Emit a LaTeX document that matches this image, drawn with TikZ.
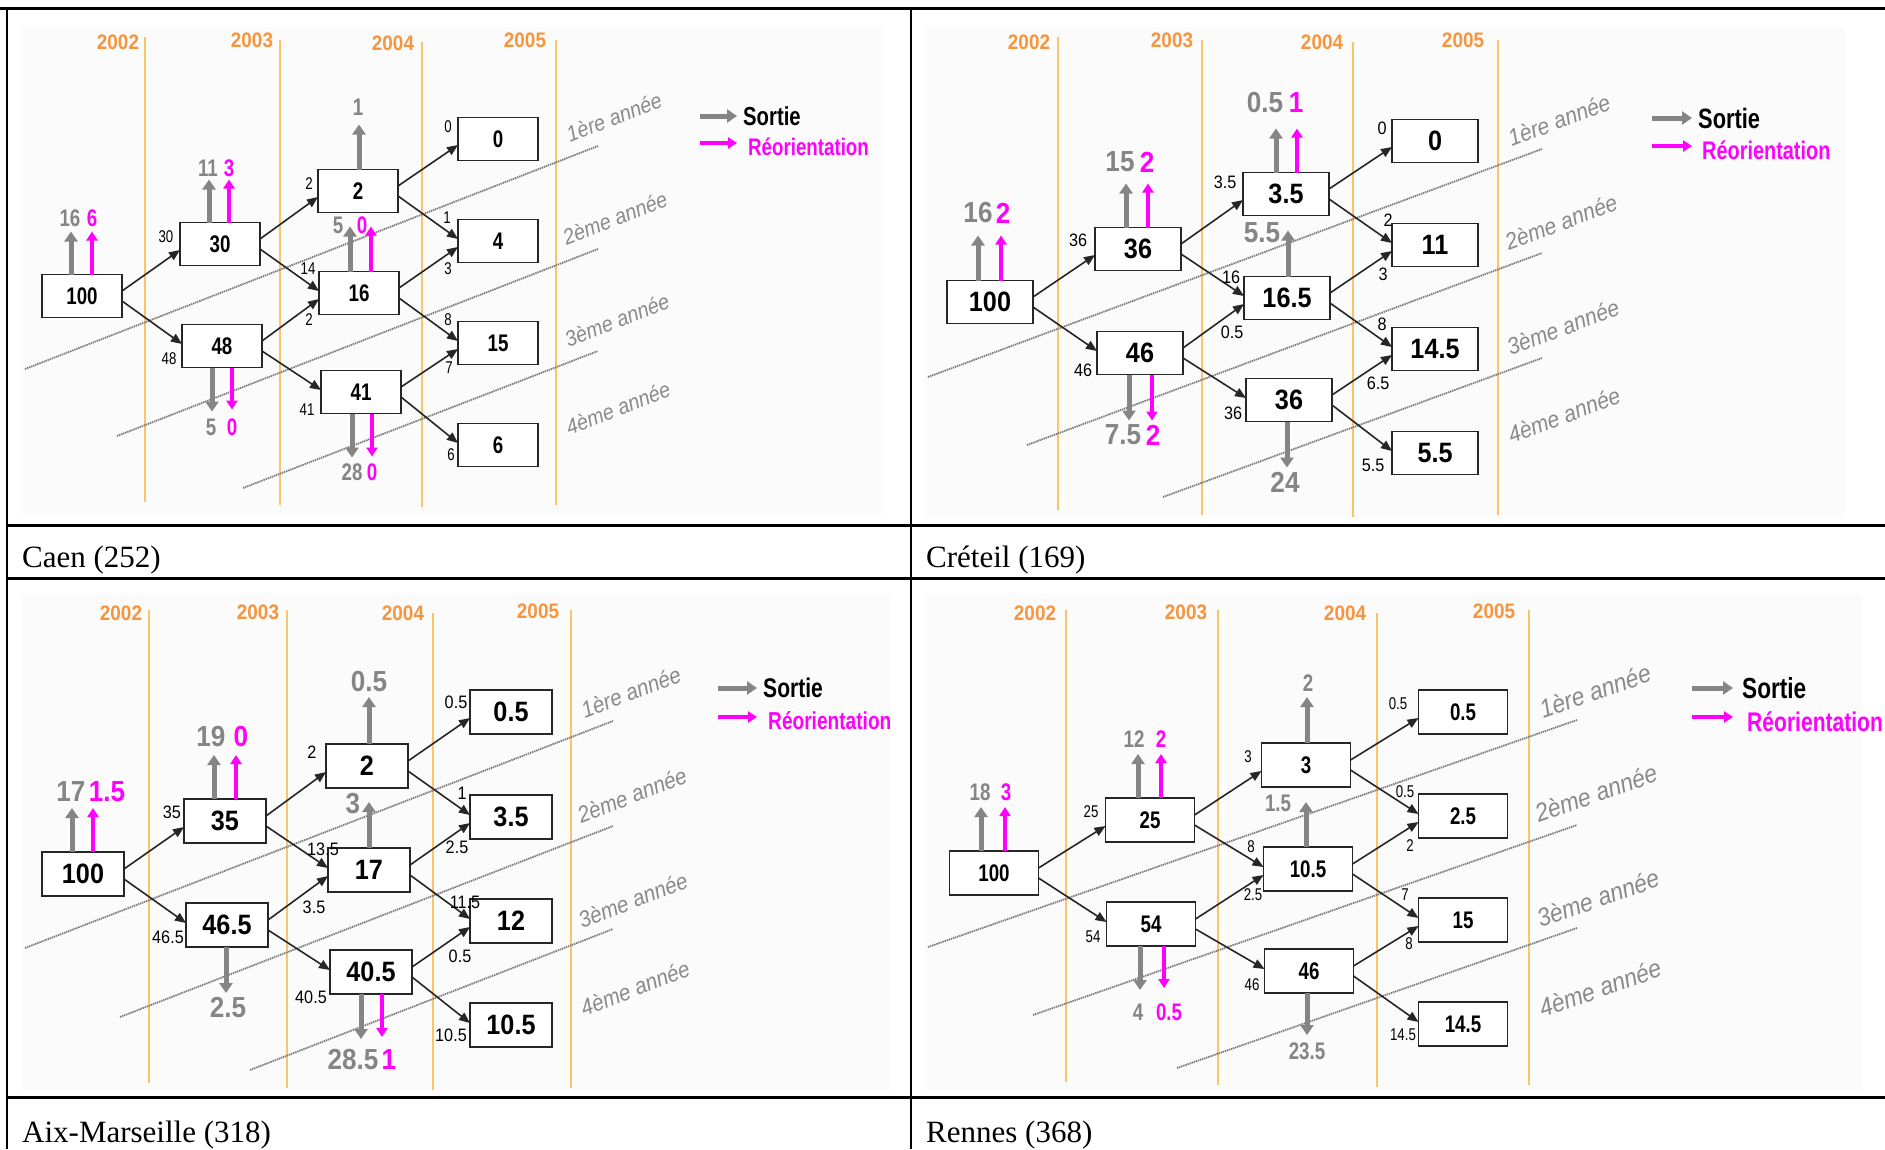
\documentclass[tikz,border=0pt]{standalone}
\usepackage{fontspec}
\setmainfont{Liberation Serif}
\newfontfamily\nsA[FakeStretch=0.78]{Liberation Sans}
\newfontfamily\nsB[FakeStretch=0.9]{Liberation Sans}
\usetikzlibrary{arrows.meta}
\newcommand\fsz[1]{\fontsize{#1pt}{#1pt}\selectfont}
\definecolor{egray}{HTML}{858585}
\definecolor{mag}{HTML}{FF00FF}
\definecolor{yorange}{HTML}{F7943C}
\definecolor{ylinec}{HTML}{F9C46B}
\definecolor{cgray}{HTML}{8A8A8A}
\definecolor{dgray}{HTML}{7A7A7A}
\tikzset{
  box/.style={draw=black!85, line width=1.8pt, fill=white, inner sep=0pt, outer sep=0pt, minimum height=43pt},
  boxA/.style={box, minimum width=80pt, font=\nsA\bfseries\fsz{24}},
  boxB/.style={box, minimum width=86pt, font=\nsB\bfseries\fsz{28}},
  boxC/.style={box, minimum width=82pt, minimum height=44pt, font=\nsB\bfseries\fsz{28}},
  boxD/.style={box, minimum width=89pt, minimum height=44pt, font=\nsA\bfseries\fsz{24}},
  flow/.style={-{Triangle[length=11pt,width=9pt]}, line width=1.6pt, draw=black!85},
  sortie/.style={-{Triangle[length=10pt,width=13pt]}, line width=5pt, draw=egray},
  reo/.style={-{Triangle[length=9pt,width=11pt]}, line width=4pt, draw=mag},
  yline/.style={draw=ylinec, line width=1.3pt},
  ytxt/.style={text=yorange, font=\nsB\bfseries\fsz{21}, inner sep=0pt},
  coh/.style={draw=dgray, line width=1.8pt, dash pattern=on 1.4pt off 0.8pt},
  lblA/.style={font=\nsA\fsz{17}, inner sep=0pt},
  lblB/.style={font=\nsB\fsz{18}, inner sep=0pt},
  exA/.style={font=\nsA\bfseries\fsz{24}, inner sep=0pt},
  exB/.style={font=\nsB\bfseries\fsz{29}, inner sep=0pt},
  cohlbl/.style={text=cgray, font=\nsB\itshape, inner sep=0pt},
  captxt/.style={anchor=base west, font=\fsz{31}, inner sep=0pt},
  tline/.style={line width=3pt, draw=black},
  vline/.style={line width=2pt, draw=black},
  bgpanel/.style={fill=black!1.5, draw=none}
}
\begin{document}
\begin{tikzpicture}[x=1pt,y=-1pt]
\useasboundingbox (0,0) rectangle (1885,1149);
\fill[white] (0,0) rectangle (1885,1149);
% ---------- panel backgrounds
\fill[bgpanel] (20,27) rectangle (884,515);
\fill[bgpanel] (925,27) rectangle (1845,518);
\fill[bgpanel] (22,594) rectangle (890,1090);
\fill[bgpanel] (925,594) rectangle (1862,1090);
% ---------- table
\draw[tline] (0,8) -- (1885,8);
\draw[tline] (7,525) -- (1885,525);
\draw[tline] (7,578) -- (1885,578);
\draw[tline] (7,1097) -- (1885,1097);
\draw[vline] (7,8) -- (7,1149);
\draw[line width=1.5pt] (911,8) -- (911,1149);
\node[captxt] (capA) at (22,567) {Caen (252)};
\node[captxt] (capB) at (926,567) {Créteil (169)};
\node[captxt] (capC) at (22,1142) {Aix-Marseille (318)};
\node[captxt] (capD) at (926,1142) {Rennes (368)};

% =================== PANEL A : Caen ===================
\foreach \x/\yt/\yb/\lx/\ly/\t [count=\i] in {145/37/502/118/42/2002, 280/40/505/252/40/2003, 422/42/507/393/43/2004, 556/40/505/525/40/2005}{
  \draw[yline] (\x,\yt) -- (\x,\yb);
  \node[ytxt] (ayr\i) at (\lx,\ly) {\t};
}
\draw[coh] (25,369) -- (598,146);
\draw[coh] (117,436) -- (598,249);
\draw[coh] (243,488) -- (598,351);
\node[cohlbl, font=\nsB\itshape\fsz{22}, rotate=21.3] (acoh1) at (614,117) {1ère année};
\node[cohlbl, font=\nsB\itshape\fsz{22}, rotate=21.3] (acoh2) at (615,218) {2ème année};
\node[cohlbl, font=\nsB\itshape\fsz{22}, rotate=21.3] (acoh3) at (617,320) {3ème année};
\node[cohlbl, font=\nsB\itshape\fsz{22}, rotate=21.3] (acoh4) at (618,408) {4ème année};
\node[boxA] (a100) at (82,296) {100};
\node[boxA] (a30) at (220,244) {30};
\node[boxA] (a48) at (222,346) {48};
\node[boxA] (a2) at (358,191) {2};
\node[boxA] (a16) at (359,293) {16};
\node[boxA] (a41) at (361,392) {41};
\node[boxA] (a0) at (498,139) {0};
\node[boxA] (a4) at (498,241) {4};
\node[boxA] (a15) at (498,343) {15};
\node[boxA] (a6) at (498,445) {6};
\foreach \s/\t in {a100/a30, a30/a2, a48/a16, a2/a0, a16/a4, a41/a15}
  \draw[flow] ([yshift=5pt]\s.east) -- ([yshift=-6pt]\t.west);
\foreach \s/\t in {a100/a48, a30/a16, a48/a41, a2/a4, a16/a15, a41/a6}
  \draw[flow] ([yshift=-5pt]\s.east) -- ([yshift=2pt]\t.west);
\node[lblA] (al1) at (166,237) {30};
\node[lblA] (al2) at (169,359) {48};
\node[lblA] (al3) at (309,184) {2};
\node[lblA] (al4) at (308,269) {14};
\node[lblA] (al5) at (309,320) {2};
\node[lblA] (al6) at (307,410) {41};
\node[lblA] (al7) at (448,127) {0};
\node[lblA] (al8) at (447,218) {1};
\node[lblA] (al9) at (448,269) {3};
\node[lblA] (al10) at (448,320) {8};
\node[lblA] (al11) at (449,368) {7};
\node[lblA] (al12) at (451,455) {6};
% exits
\draw[sortie] ([xshift=-11pt]a100.north) -- ++(0,-43);
\draw[reo] ([xshift=10pt]a100.north) -- ++(0,-43);
\node[exA, text=egray] (ae1) at (70,218) {16};
\node[exA, text=mag] (ae2) at (92,218) {6};
\draw[sortie] ([xshift=-11pt]a30.north) -- ++(0,-43);
\draw[reo] ([xshift=9pt]a30.north) -- ++(0,-43);
\node[exA, text=egray] (ae3) at (208,168) {11};
\node[exA, text=mag] (ae4) at (229,168) {3};
\draw[sortie] ([xshift=1pt]a2.north) -- ++(0,-45);
\node[exA, text=egray] (ae5) at (358,107) {1};
\draw[sortie] ([xshift=-9pt]a16.north) -- ++(0,-45);
\draw[reo] ([xshift=12pt]a16.north) -- ++(0,-45);
\node[exA, text=egray] (ae6) at (338,225) {5};
\node[exA, text=mag] (ae7) at (362,225) {0};
\draw[sortie] ([xshift=-10pt]a48.south) -- ++(0,44);
\draw[reo] ([xshift=10pt]a48.south) -- ++(0,42);
\node[exA, text=egray] (ae8) at (211,427) {5};
\node[exA, text=mag] (ae9) at (232,427) {0};
\draw[sortie] ([xshift=-9pt]a41.south) -- ++(0,44);
\draw[reo] ([xshift=11pt]a41.south) -- ++(0,43);
\node[exA, text=egray] (ae10) at (352,472) {28};
\node[exA, text=mag] (ae11) at (372,472) {0};
% legend
\node[anchor=west, inner sep=0pt, font=\nsA\bfseries\fsz{26}] (aLs) at (743,116) {Sortie};
\node[anchor=west, inner sep=0pt, text=mag, font=\nsA\bfseries\fsz{24}] (aLr) at (748,147) {Réorientation};
\coordinate (aLs0) at (700,116);
\coordinate (aLr0) at (700,143);
\draw[sortie] (aLs0) -- ([xshift=-6pt]aLs.west);
\draw[reo] (aLr0) -- ([xshift=-11pt,yshift=4pt]aLr.west);

% =================== PANEL B : Creteil ===================
\foreach \x/\yt/\yb/\lx/\ly/\t [count=\i] in {1058/37/510/1029/42/2002, 1202/40/515/1172/40/2003, 1353/42/517/1322/42/2004, 1498/40/515/1463/40/2005}{
  \draw[yline] (\x,\yt) -- (\x,\yb);
  \node[ytxt] (byr\i) at (\lx,\ly) {\t};
}
\draw[coh] (928,377) -- (1542,149);
\draw[coh] (1027,445) -- (1542,253);
\draw[coh] (1163,497) -- (1542,358);
\node[cohlbl, font=\nsB\itshape\fsz{23.5}, rotate=20.4] (bcoh1) at (1559,120) {1ère année};
\node[cohlbl, font=\nsB\itshape\fsz{23.5}, rotate=20.4] (bcoh2) at (1561,222) {2ème année};
\node[cohlbl, font=\nsB\itshape\fsz{23.5}, rotate=20.4] (bcoh3) at (1563,327) {3ème année};
\node[cohlbl, font=\nsB\itshape\fsz{23.5}, rotate=20.4] (bcoh4) at (1564,415) {4ème année};
\node[boxB] (b100) at (990,302) {100};
\node[boxB] (b36) at (1138,249) {36};
\node[boxB] (b46) at (1140,353) {46};
\node[boxB] (b35) at (1286,194) {3.5};
\node[boxB] (b165) at (1287,298) {16.5};
\node[boxB] (b36b) at (1289,400) {36};
\node[boxB] (b0) at (1435,141) {0};
\node[boxB] (b11) at (1435,245) {11};
\node[boxB] (b145) at (1435,349) {14.5};
\node[boxB] (b55) at (1435,453) {5.5};
\foreach \s/\t in {b100/b36, b36/b35, b46/b165, b35/b0, b165/b11, b36b/b145}
  \draw[flow] ([yshift=5pt]\s.east) -- ([yshift=-6pt]\t.west);
\foreach \s/\t in {b100/b46, b36/b165, b46/b36b, b35/b11, b165/b145, b36b/b55}
  \draw[flow] ([yshift=-5pt]\s.east) -- ([yshift=2pt]\t.west);
\node[lblB] (bl1) at (1078,240) {36};
\node[lblB] (bl2) at (1083,370) {46};
\node[lblB] (bl3) at (1225,182) {3.5};
\node[lblB] (bl4) at (1231,277) {16};
\node[lblB] (bl5) at (1232,332) {0.5};
\node[lblB] (bl6) at (1233,413) {36};
\node[lblB] (bl7) at (1382,128) {0};
\node[lblB] (bl8) at (1388,220) {2};
\node[lblB] (bl9) at (1383,274) {3};
\node[lblB] (bl10) at (1382,324) {8};
\node[lblB] (bl11) at (1378,383) {6.5};
\node[lblB] (bl12) at (1373,465) {5.5};
\draw[sortie] ([xshift=-12pt]b100.north) -- ++(0,-45);
\draw[reo] ([xshift=11pt]b100.north) -- ++(0,-45);
\node[exB, text=egray] (be1) at (978,213) {16};
\node[exB, text=mag] (be2) at (1003,213) {2};
\draw[sortie] ([xshift=-12pt]b36.north) -- ++(0,-44);
\draw[reo] ([xshift=10pt]b36.north) -- ++(0,-44);
\node[exB, text=egray] (be3) at (1120,162) {15};
\node[exB, text=mag] (be4) at (1147,162) {2};
\draw[sortie] ([xshift=-10pt]b35.north) -- ++(0,-44);
\draw[reo] ([xshift=11pt]b35.north) -- ++(0,-44);
\node[exB, text=egray] (be5) at (1265,103) {0.5};
\node[exB, text=mag] (be6) at (1296,103) {1};
\draw[sortie] ([xshift=1pt]b165.north) -- ++(0,-46);
\node[exB, text=egray] (be7) at (1262,233) {5.5};
\draw[sortie] ([xshift=-11pt]b46.south) -- ++(0,46);
\draw[reo] ([xshift=12pt]b46.south) -- ++(0,46);
\node[exB, text=egray] (be8) at (1123,435) {7.5};
\node[exB, text=mag] (be9) at (1153,435) {2};
\draw[sortie] ([xshift=-2pt]b36b.south) -- ++(0,46);
\node[exB, text=egray] (be10) at (1285,482) {24};
\node[anchor=west, inner sep=0pt, font=\nsA\bfseries\fsz{28}] (bLs) at (1698,118) {Sortie};
\node[anchor=west, inner sep=0pt, text=mag, font=\nsA\bfseries\fsz{25.5}] (bLr) at (1702,150) {Réorientation};
\coordinate (bLs0) at (1652,118);
\coordinate (bLr0) at (1652,146);
\draw[sortie] (bLs0) -- ([xshift=-6pt]bLs.west);
\draw[reo] (bLr0) -- ([xshift=-10pt,yshift=4pt]bLr.west);

% =================== PANEL C : Aix-Marseille ===================
\foreach \x/\yt/\yb/\lx/\ly/\t [count=\i] in {149/610/1083/121/613/2002, 287/610/1088/258/612/2003, 433/613/1090/403/613/2004, 571/610/1088/538/611/2005}{
  \draw[yline] (\x,\yt) -- (\x,\yb);
  \node[ytxt] (cyr\i) at (\lx,\ly) {\t};
}
\draw[coh] (25,948) -- (613,721);
\draw[coh] (120,1017) -- (613,826);
\draw[coh] (250,1070) -- (613,929);
\node[cohlbl, font=\nsB\itshape\fsz{23}, rotate=21.2] (ccoh1) at (631,692) {1ère année};
\node[cohlbl, font=\nsB\itshape\fsz{23}, rotate=21.2] (ccoh2) at (632,795) {2ème année};
\node[cohlbl, font=\nsB\itshape\fsz{23}, rotate=21.2] (ccoh3) at (633,900) {3ème année};
\node[cohlbl, font=\nsB\itshape\fsz{23}, rotate=21.2] (ccoh4) at (635,988) {4ème année};
\node[boxC] (c100) at (83,874) {100};
\node[boxC] (c35) at (225,821) {35};
\node[boxC] (c465) at (227,925) {46.5};
\node[boxC] (c2) at (367,766) {2};
\node[boxC] (c17) at (369,870) {17};
\node[boxC] (c405) at (371,972) {40.5};
\node[boxC] (c05) at (511,712) {0.5};
\node[boxC] (c35b) at (511,817) {3.5};
\node[boxC] (c12) at (511,921) {12};
\node[boxC] (c105) at (511,1025) {10.5};
\foreach \s/\t in {c100/c35, c35/c2, c465/c17, c2/c05, c17/c35b, c405/c12}
  \draw[flow] ([yshift=5pt]\s.east) -- ([yshift=-6pt]\t.west);
\foreach \s/\t in {c100/c465, c35/c17, c465/c405, c2/c35b, c17/c12, c405/c105}
  \draw[flow] ([yshift=-5pt]\s.east) -- ([yshift=2pt]\t.west);
\node[lblB] (cl1) at (172,812) {35};
\node[lblB] (cl2) at (168,937) {46.5};
\node[lblB] (cl3) at (312,752) {2};
\node[lblB] (cl4) at (323,849) {13.5};
\node[lblB] (cl5) at (314,907) {3.5};
\node[lblB] (cl6) at (311,997) {40.5};
\node[lblB] (cl7) at (456,702) {0.5};
\node[lblB] (cl8) at (462,793) {1};
\node[lblB] (cl9) at (457,847) {2.5};
\node[lblB] (cl10) at (465,902) {11.5};
\node[lblB] (cl11) at (460,956) {0.5};
\node[lblB] (cl12) at (451,1035) {10.5};
\draw[sortie] ([xshift=-11pt]c100.north) -- ++(0,-44);
\draw[reo] ([xshift=10pt]c100.north) -- ++(0,-44);
\node[exB, text=egray] (ce1) at (71,792) {17};
\node[exB, text=mag] (ce2) at (107,792) {1.5};
\draw[sortie] ([xshift=-11pt]c35.north) -- ++(0,-44);
\draw[reo] ([xshift=11pt]c35.north) -- ++(0,-44);
\node[exB, text=egray] (ce3) at (211,737) {19};
\node[exB, text=mag] (ce4) at (241,737) {0};
\draw[sortie] ([xshift=2pt]c2.north) -- ++(0,-47);
\node[exB, text=egray] (ce5) at (369,682) {0.5};
\draw[sortie] (c17.north) -- ++(0,-46);
\node[exB, text=egray] (ce6) at (353,804) {3};
\draw[sortie] ([xshift=-1pt]c465.south) -- ++(0,46);
\node[exB, text=egray] (ce7) at (228,1008) {2.5};
\draw[sortie] ([xshift=-10pt]c405.south) -- ++(0,45);
\draw[reo] ([xshift=11pt]c405.south) -- ++(0,43);
\node[exB, text=egray] (ce8) at (353,1060) {28.5};
\node[exB, text=mag] (ce9) at (389,1060) {1};
\node[anchor=west, inner sep=0pt, font=\nsA\bfseries\fsz{27}] (cLs) at (763,688) {Sortie};
\node[anchor=west, inner sep=0pt, text=mag, font=\nsA\bfseries\fsz{24.5}] (cLr) at (768,721) {Réorientation};
\coordinate (cLs0) at (718,688);
\coordinate (cLr0) at (718,717);
\draw[sortie] (cLs0) -- ([xshift=-6pt]cLs.west);
\draw[reo] (cLr0) -- ([xshift=-11pt,yshift=4pt]cLr.west);

% =================== PANEL D : Rennes ===================
\foreach \x/\yt/\yb/\lx/\ly/\t [count=\i] in {1066/610/1082/1035/613/2002, 1218/610/1085/1186/612/2003, 1377/613/1087/1345/613/2004, 1529/610/1085/1494/611/2005}{
  \draw[yline] (\x,\yt) -- (\x,\yb);
  \node[ytxt] (dyr\i) at (\lx,\ly) {\t};
}
\draw[coh] (928,947) -- (1577,720);
\draw[coh] (1033,1015) -- (1577,825);
\draw[coh] (1177,1068) -- (1577,928);
\node[cohlbl, font=\nsB\itshape\fsz{25.5}, rotate=19.3] (dcoh1) at (1595,691) {1ère année};
\node[cohlbl, font=\nsB\itshape\fsz{25.5}, rotate=19.3] (dcoh2) at (1596,793) {2ème année};
\node[cohlbl, font=\nsB\itshape\fsz{25.5}, rotate=19.3] (dcoh3) at (1598,898) {3ème année};
\node[cohlbl, font=\nsB\itshape\fsz{25.5}, rotate=19.3] (dcoh4) at (1600,988) {4ème année};
\node[boxD] (d100) at (994,873) {100};
\node[boxD] (d25) at (1150,820) {25};
\node[boxD] (d54) at (1151,924) {54};
\node[boxD] (d3) at (1306,765) {3};
\node[boxD] (d105) at (1308,869) {10.5};
\node[boxD] (d46) at (1309,971) {46};
\node[boxD] (d05) at (1463,712) {0.5};
\node[boxD] (d25b) at (1463,816) {2.5};
\node[boxD] (d15) at (1463,920) {15};
\node[boxD] (d145) at (1463,1024) {14.5};
\foreach \s/\t in {d100/d25, d25/d3, d54/d105, d3/d05, d105/d25b, d46/d15}
  \draw[flow] ([yshift=5pt]\s.east) -- ([yshift=-6pt]\t.west);
\foreach \s/\t in {d100/d54, d25/d105, d54/d46, d3/d25b, d105/d15, d46/d145}
  \draw[flow] ([yshift=-5pt]\s.east) -- ([yshift=2pt]\t.west);
\node[lblA] (dl1) at (1091,812) {25};
\node[lblA] (dl2) at (1093,937) {54};
\node[lblA] (dl3) at (1248,757) {3};
\node[lblA] (dl4) at (1251,847) {8};
\node[lblA] (dl5) at (1253,895) {2.5};
\node[lblA] (dl6) at (1252,985) {46};
\node[lblA] (dl7) at (1398,704) {0.5};
\node[lblA] (dl8) at (1405,792) {0.5};
\node[lblA] (dl9) at (1410,846) {2};
\node[lblA] (dl10) at (1405,895) {7};
\node[lblA] (dl11) at (1409,944) {8};
\node[lblA] (dl12) at (1403,1035) {14.5};
\draw[sortie] ([xshift=-13pt]d100.north) -- ++(0,-44);
\draw[reo] ([xshift=11pt]d100.north) -- ++(0,-44);
\node[exA, text=egray] (de1) at (980,792) {18};
\node[exA, text=mag] (de2) at (1006,792) {3};
\draw[sortie] ([xshift=-12pt]d25.north) -- ++(0,-44);
\draw[reo] ([xshift=11pt]d25.north) -- ++(0,-44);
\node[exA, text=egray] (de3) at (1134,739) {12};
\node[exA, text=mag] (de4) at (1161,739) {2};
\draw[sortie] ([xshift=1pt]d3.north) -- ++(0,-46);
\node[exA, text=egray] (de5) at (1308,683) {2};
\draw[sortie] ([xshift=-2pt]d105.north) -- ++(0,-45);
\node[exA, text=egray] (de6) at (1278,803) {1.5};
\draw[sortie] ([xshift=-11pt]d54.south) -- ++(0,44);
\draw[reo] ([xshift=13pt]d54.south) -- ++(0,42);
\node[exA, text=egray] (de7) at (1138,1012) {4};
\node[exA, text=mag] (de8) at (1169,1012) {0.5};
\draw[sortie] ([xshift=-2pt]d46.south) -- ++(0,42);
\node[exA, text=egray] (de9) at (1307,1051) {23.5};
\node[anchor=west, inner sep=0pt, font=\nsA\bfseries\fsz{29}] (dLs) at (1742,688) {Sortie};
\node[anchor=west, inner sep=0pt, text=mag, font=\nsA\bfseries\fsz{27}] (dLr) at (1747,722) {Réorientation};
\coordinate (dLs0) at (1692,688);
\coordinate (dLr0) at (1692,717);
\draw[sortie] (dLs0) -- ([xshift=-9pt]dLs.west);
\draw[reo] (dLr0) -- ([xshift=-14pt,yshift=5pt]dLr.west);
\end{tikzpicture}
\end{document}
